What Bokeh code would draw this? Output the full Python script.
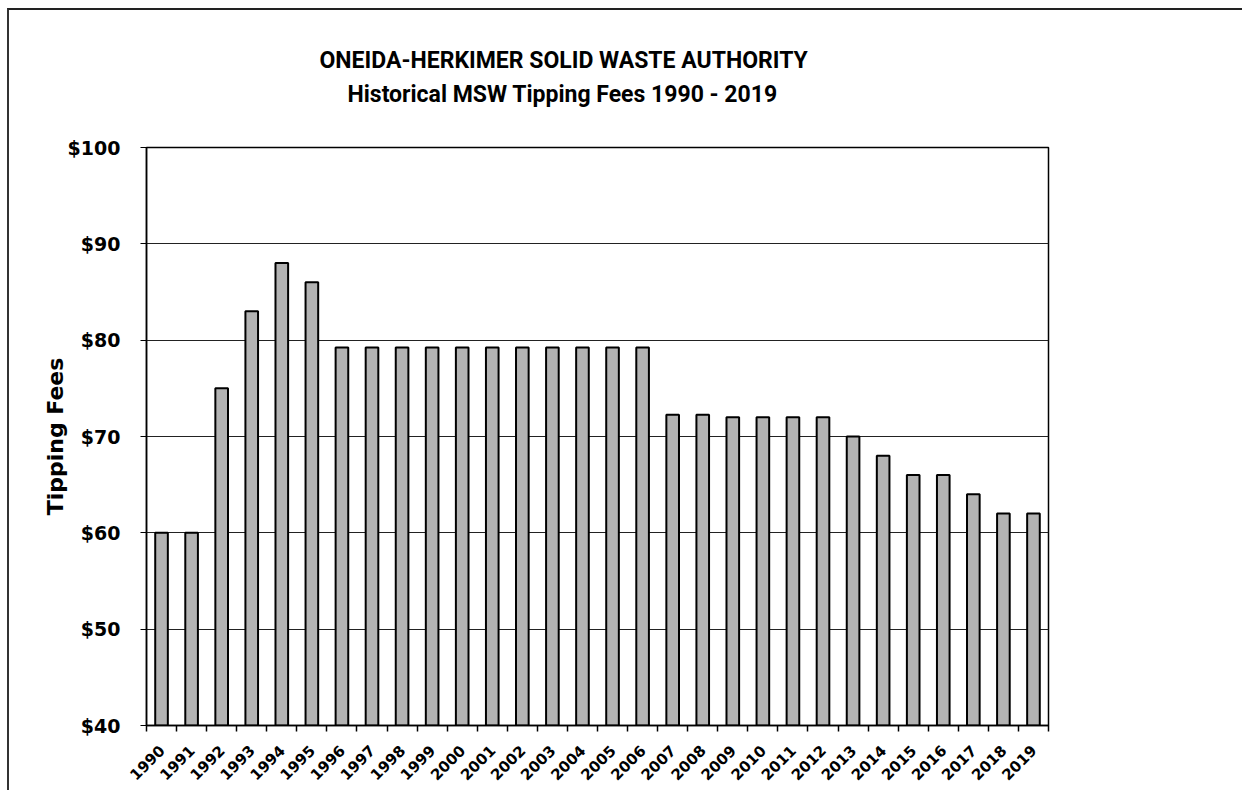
from bokeh.plotting import figure
from bokeh.models import Range1d, FixedTicker, NumeralTickFormatter, BasicTickFormatter, Title
from bokeh.embed import file_html
from bokeh.resources import INLINE
import math

years = list(range(1990, 2020))
fees = [60, 60, 75, 83, 88, 86,
        79.25, 79.25, 79.25, 79.25, 79.25, 79.25, 79.25, 79.25, 79.25, 79.25, 79.25,
        72.25, 72.25, 72, 72, 72, 72,
        70, 68, 66, 66, 64, 62, 62]
y_ticks = [40, 50, 60, 70, 80, 90, 100]
title_1 = "ONEIDA-HERKIMER SOLID WASTE AUTHORITY"
title_2 = "Historical MSW Tipping Fees 1990 - 2019"
y_label = "Tipping Fees"

p = figure(width=1235, height=782,
           x_range=Range1d(years[0] - 0.5, years[-1] + 0.5),
           y_range=Range1d(y_ticks[0], y_ticks[-1]),
           output_backend="svg", toolbar_location=None,
           min_border_left=137, min_border_right=196,
           min_border_top=137, min_border_bottom=67)
p.styles = {"border-top": "2px solid #222", "border-left": "2px solid #333",
            "margin-left": "7px", "margin-top": "8px"}

p.vbar(x=years, top=fees, bottom=y_ticks[0], width=0.42,
       fill_color="#b3b3b3", line_color="black", line_width=2)

p.outline_line_color = "black"
p.outline_line_width = 1.5
p.background_fill_color = "white"
p.border_fill_color = "white"

# grid
p.xgrid.visible = False
p.ygrid.grid_line_color = "#222222"
p.ygrid.grid_line_width = 1

# y axis
ya = p.yaxis[0]
ya.ticker = FixedTicker(ticks=y_ticks)
ya.formatter = NumeralTickFormatter(format="$0")
ya.major_label_text_font = "DejaVu Sans"
ya.major_label_text_font_style = "bold"
ya.major_label_text_font_size = "19px"
ya.major_label_text_color = "black"
ya.major_tick_in = 0
ya.major_tick_out = 6
ya.minor_tick_line_color = None
ya.major_label_standoff = 20
ya.axis_line_color = "black"
ya.axis_line_width = 1.5
ya.axis_label = y_label
ya.axis_label_text_font = "DejaVu Sans"
ya.axis_label_text_font_style = "bold"
ya.axis_label_text_font_size = "22px"
ya.axis_label_text_color = "black"
ya.axis_label_standoff = -3

# x axis
xa = p.xaxis[0]
xa.ticker = FixedTicker(ticks=years, minor_ticks=[y - 0.5 for y in years] + [years[-1] + 0.5])
xa.formatter = BasicTickFormatter(use_scientific=False)
xa.major_tick_line_color = None
xa.minor_tick_in = 0
xa.minor_tick_out = 6
xa.minor_tick_line_color = "black"
xa.minor_tick_line_width = 1.5
xa.major_label_orientation = math.pi / 4
xa.major_label_text_font = "DejaVu Sans"
xa.major_label_text_font_style = "bold"
xa.major_label_text_font_size = "15px"
xa.major_label_text_color = "black"
xa.major_label_standoff = 16
xa.axis_line_color = "black"
xa.axis_line_width = 1.5

# titles: a blank spacer next to the plot, then line 2, then line 1
title_style = dict(text_font="Roboto", text_font_style="bold", text_font_size="23px", text_color="black")
spacer = Title(text=" ", align="left", standoff=11, **title_style)
t2 = Title(text=title_2, align="left", offset=201, standoff=0, **title_style)
t1 = Title(text=title_1, align="left", offset=173, standoff=10, **title_style)
p.add_layout(spacer, "above")
p.add_layout(t2, "above")
p.add_layout(t1, "above")

open("out.html", "w").write(file_html(p, INLINE))
